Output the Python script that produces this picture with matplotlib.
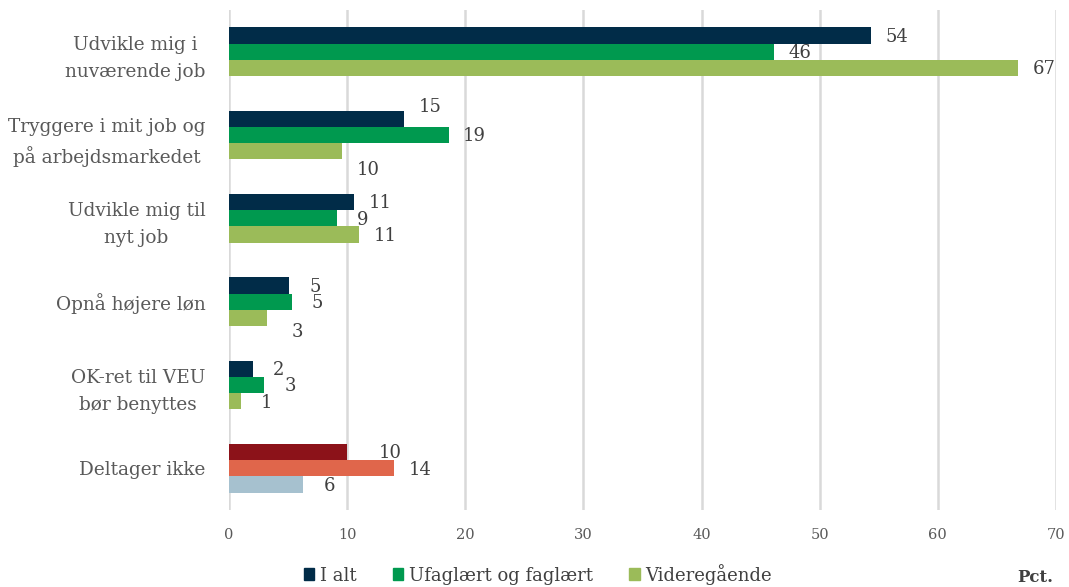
import numpy as np
import matplotlib.pyplot as plt
from matplotlib.patches import Patch

plt.rcParams['font.family'] = ['DejaVu Serif']

categories = ['Udvikle mig i\nnuværende job',
              'Tryggere i mit job og\npå arbejdsmarkedet',
              'Udvikle mig til\nnyt job',
              'Opnå højere løn',
              'OK-ret til VEU\nbør benyttes',
              'Deltager ikke']
series_names = ['I alt', 'Ufaglært og faglært', 'Videregående']
i_alt = [54.3, 14.8, 10.6, 5.1, 2.0, 10.0]
ufaglaert = [46.1, 18.6, 9.1, 5.3, 3.0, 14.0]
videregaaende = [66.8, 9.6, 11.0, 3.2, 1.0, 6.3]
labels = [[54, 15, 11, 5, 2, 10],
          [46, 19, 9, 5, 3, 14],
          [67, 10, 11, 3, 1, 6]]

colors = ['#012c48', '#00994f', '#9bbb59']
colors_last = ['#8c1219', '#e0664b', '#a6c1cf']
# label nudges in pixels (dx, dy down), as placed in the original
nudge = {(0, 1): (0, -13), (2, 1): (0, 17), (2, 3): (5, 13),
         (0, 5): (17, 0)}

fig = plt.figure(figsize=(10.69, 5.87), dpi=100)
ax = fig.add_axes([229 / 1069, 77 / 587, 827 / 1069, 500 / 587])

y = np.arange(len(categories))
h = 0.195
vals = [i_alt, ufaglaert, videregaaende]
for s, v in enumerate(vals):
    cols = [colors[s]] * (len(categories) - 1) + [colors_last[s]]
    ys = y + (s - 1) * h
    ax.barh(ys, v, height=h, color=cols, zorder=3)
    for i in range(len(categories)):
        dx, dy = nudge.get((s, i), (0, 0))
        ax.annotate(str(labels[s][i]), (v[i], ys[i]),
                    xytext=((26 + dx) * 0.72, -dy * 0.72 - 1),
                    textcoords='offset points', ha='center', va='center',
                    fontsize=13, color='#404040', zorder=4)

ax.set_ylim(len(categories) - 0.5, -0.5)
ax.set_xlim(0, 70)
ax.set_xticks(np.arange(0, 71, 10))
ax.set_yticks(y)
ax.set_yticklabels(categories, fontsize=13.3, color='#595959',
                   multialignment='center', linespacing=1.65)
ax.tick_params(axis='x', labelsize=10.5, colors='#595959', length=0, pad=13)
ax.tick_params(axis='y', length=0, pad=17)
ax.grid(axis='x', color='#d9d9d9', linewidth=1.8, zorder=0)
for sp in ax.spines.values():
    sp.set_visible(False)

handles = [Patch(color=c) for c in colors]
fig.legend(handles, series_names, loc='center', bbox_to_anchor=(0.503, 0.022),
           ncol=3, frameon=False, fontsize=13, handlelength=0.6,
           handleheight=0.6, handletextpad=0.3, columnspacing=2.0,
           labelcolor='#404040')
fig.text(0.985, 0.016, 'Pct.', ha='right', va='center', fontsize=12,
         fontweight='bold', color='#404040')

fig.savefig('out.png', dpi=100)
